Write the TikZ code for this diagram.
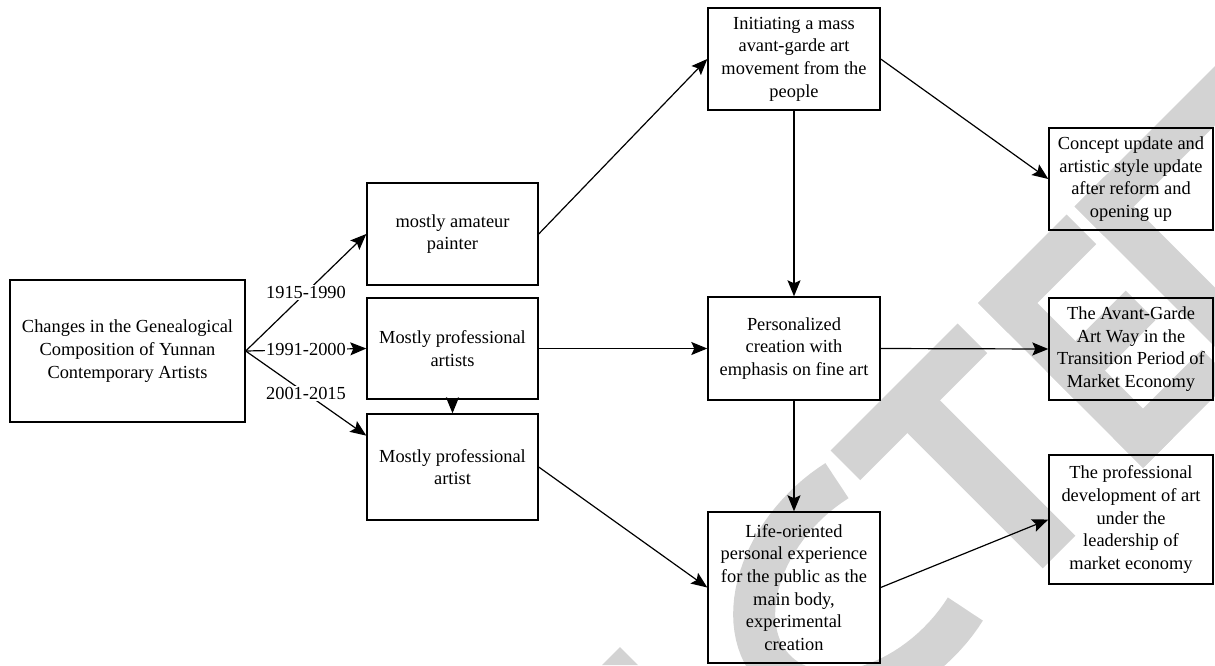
\documentclass[tikz,border=0pt]{standalone}
\usepackage{fontspec}
\setmainfont{Liberation Serif}
\usepackage{tikz}
\usetikzlibrary{arrows.meta,positioning}
\definecolor{wmgray}{RGB}{211,211,211}

\begin{document}
\begin{tikzpicture}[x=1pt, y=-1pt, >={Stealth[length=16pt, width=13pt, inset=3pt]}]
		\tikzstyle{Box}	= [draw, line width=1.4pt, align=center, inner sep=2pt, font=\fontsize{18.4}{22.7}\selectfont]
		\tikzstyle{Link}	= [line width=1.2pt]
		\tikzstyle{Year}	= [fill=white, inner sep=1.5pt, font=\fontsize{18.4}{20}\selectfont]
		\tikzstyle{Mark}	= [wmgray, line width=42pt]

		\useasboundingbox (0,0) rectangle (1215,665);

		% watermark behind the chart
		\begin{scope}
			\clip (0,0) rectangle (1215,665);
			\fill[wmgray] (602,665) -- (620,647) -- (638,665) -- cycle;
			\draw [Mark] plot[domain=72:288, samples=60, variable=\t] ({(297+192*cos(\t)+1446-135*sin(\t))/2}, {(1446-135*sin(\t)-297-192*cos(\t))/2});
			\draw [Mark] (845.35,465.35) -- (972.35,338.35);
			\draw [Mark, line width=46pt] (908.5,401.5) -- (1059,552);
			\draw [Mark] (992.85,288.15) -- (1157.85,453.15);
			\draw [Mark] (992.85,317.85) -- (1081.35,229.35);
			\draw [Mark] (1060.5,385.5) -- (1140.5,305.5);
			\draw [Mark] (1128.15,453.15) -- (1216.65,364.65);
			\draw [Mark] (1089.35,191.65) -- (1254.35,356.65);
			\draw [Mark] (1089.35,221.35) -- (1255.35,55.35);
		\end{scope}

		\node (chg) at (127.5, 351) [Box, minimum width=235pt, minimum height=142pt] {Changes in the Genealogical\\ Composition of Yunnan\\ Contemporary Artists};
		\node (amateur) at (452.5, 234) [Box, minimum width=171pt, minimum height=102pt] {mostly amateur\\ painter};
		\node (proArtists) at (452.5, 348.5) [Box, minimum width=171pt, minimum height=101pt] {Mostly professional\\ artists};
		\node (proArtist) at (452.5, 467) [Box, minimum width=171pt, minimum height=106pt] {Mostly professional\\ artist};
		\node (init) at (794, 59) [Box, minimum width=172pt, minimum height=102pt] {Initiating a mass\\ avant-garde art\\ movement from the\\ people};
		\node (pers) at (794, 348.5) [Box, minimum width=172pt, minimum height=103pt] {Personalized\\ creation with\\ emphasis on fine art};
		\node (life) at (794, 587.5) [Box, minimum width=172pt, minimum height=151pt] {Life-oriented\\ personal experience\\ for the public as the\\ main body,\\ experimental\\ creation};
		\node (concept) at (1131, 179) [Box, minimum width=164pt, minimum height=102pt] {Concept update and\\ artistic style update\\ after reform and\\ opening up};
		\node (avant) at (1131, 349) [Box, minimum width=164pt, minimum height=102pt] {The Avant-Garde\\ Art Way in the\\ Transition Period of\\ Market Economy};
		\node (profdev) at (1131, 519.5) [Box, minimum width=164pt, minimum height=129pt] {The professional\\ development of art\\ under the\\ leadership of\\ market economy};

		\draw [->] (chg.east) to node [Year] {1915-1990} (amateur.west) [Link];
		\draw [->] (chg.east) to node [Year] {1991-2000} (proArtists.west) [Link];
		\draw [->] (chg.east) to node [Year] {2001-2015} (proArtist.160) [Link];
		\draw [->] (proArtists.south) to (proArtist.north) [Link];
		\draw [->] (amateur.east) to (init.west) [Link];
		\draw [->] (proArtists.east) to (pers.west) [Link];
		\draw [->] (proArtist.east) to (life.west) [Link];
		\draw [->] (init.east) to (concept.west) [Link];
		\draw [->] (init.south) to (pers.north) [Link];
		\draw [->] (pers.east) to (avant.west) [Link];
		\draw [->] (pers.south) to (life.north) [Link];
		\draw [->] (life.east) to (profdev.west) [Link];
\end{tikzpicture}
\end{document}
